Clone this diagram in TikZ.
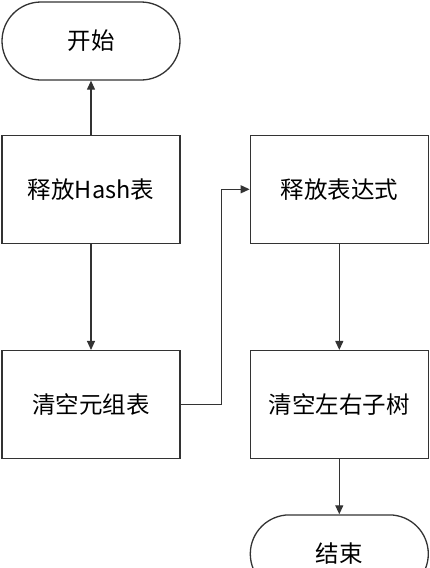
\documentclass[tikz,border=0pt]{standalone}
\usepackage{fontspec}
\newfontfamily\cjk{Noto Sans CJK SC}
\usepackage{xcolor}
\usepackage{tikz}
\usetikzlibrary{calc, arrows.meta, positioning}
\definecolor{linegray}{HTML}{333333}
\tikzset{
  terminal/.style={draw=linegray,line width=1.3pt,rounded corners=39pt,minimum width=178pt,minimum height=78pt,font=\cjk\fontsize{23.5pt}{26pt}\selectfont},
  stepbox/.style={draw=linegray,line width=1.3pt,minimum width=178pt,minimum height=108pt,font=\cjk\fontsize{23.5pt}{26pt}\selectfont},
  flowarrow/.style={-{Triangle[length=9pt,width=8pt]}, line width=1.2pt, color=linegray}
}
\begin{document}
\begin{tikzpicture}
  \useasboundingbox (0,0) rectangle (430pt,-568pt);
  \node[terminal] (start) at (91pt,-41pt) {开始};
  \node[stepbox, below=54pt of start] (hash) {释放Hash表};
  \node[stepbox, below=106pt of hash] (tuple) {清空元组表};
  \node[stepbox, right=69pt of hash] (expr) {释放表达式};
  \node[stepbox, below=106pt of expr] (subtree) {清空左右子树};
  \node[terminal, below=55pt of subtree] (end) {结束};
  \draw[flowarrow] (hash) -- (start);
  \draw[flowarrow] (hash) -- (tuple);
  \draw[flowarrow] (tuple.east) -- ($(tuple.east)+(41pt,0)$) |- (expr.west);
  \draw[flowarrow] (expr) -- (subtree);
  \draw[flowarrow] (subtree) -- (end);
\end{tikzpicture}
\end{document}
